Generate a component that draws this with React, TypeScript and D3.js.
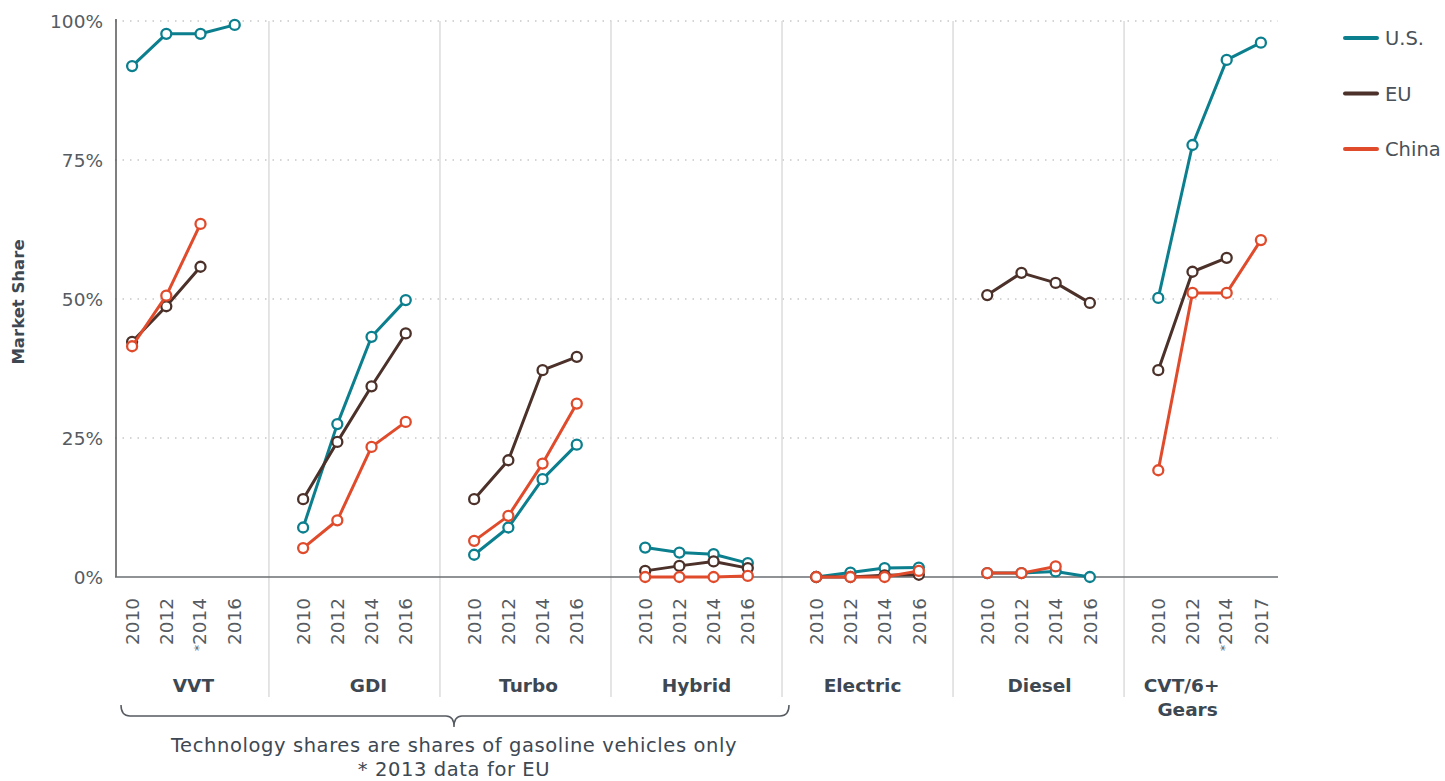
import React from "react";
import * as d3 from "d3";

// technology groups and the years shown under each
const groups = ["VVT", "GDI", "Turbo", "Hybrid", "Electric", "Diesel", "CVT/6+|Gears"];
const yearLabels = [
  ["2010", "2012", "*2014", "2016"],
  ["2010", "2012", "2014", "2016"],
  ["2010", "2012", "2014", "2016"],
  ["2010", "2012", "2014", "2016"],
  ["2010", "2012", "2014", "2016"],
  ["2010", "2012", "2014", "2016"],
  ["2010", "2012", "*2014", "2017"],
];

// market share in %, null = no data
const usShare = [
  [91.9, 97.7, 97.7, 99.3],
  [8.9, 27.5, 43.2, 49.8],
  [4.0, 8.9, 17.6, 23.8],
  [5.3, 4.4, 4.1, 2.5],
  [0, 0.8, 1.6, 1.7],
  [0.7, 0.7, 1.0, 0],
  [50.2, 77.7, 93.0, 96.1],
];
const euShare = [
  [42.3, 48.7, 55.8, null],
  [14.0, 24.3, 34.3, 43.8],
  [14.0, 21.0, 37.2, 39.6],
  [1.1, 2.0, 2.8, 1.6],
  [0, 0, 0.3, 0.4],
  [50.7, 54.7, 52.9, 49.3],
  [37.2, 54.9, 57.4, null],
];
const chinaShare = [
  [41.5, 50.6, 63.5, null],
  [5.2, 10.2, 23.4, 27.9],
  [6.5, 11.0, 20.4, 31.2],
  [0, 0, 0, 0.2],
  [0, 0, 0, 1.1],
  [0.7, 0.7, 1.9, null],
  [19.2, 51.1, 51.1, 60.6],
];

const yTicks = [0, 25, 50, 75, 100];

const series = [
  { name: "U.S.", color: "#0b7f8e", values: usShare },
  { name: "EU", color: "#4b3129", values: euShare },
  { name: "China", color: "#e04b2c", values: chinaShare },
];

const textColor = "#3d4852";
const font = "'DejaVu Sans', sans-serif";

const margin = { top: 21, left: 115, right: 1278, bottom: 577 };
const perGroup = 5; // 4 years + 1 gap slot

// small horizontal nudges of the group titles, as placed in the original
const labelNudge = [10, 14, 3, 0, -5, 1, -28];

export default function App() {
  const x = d3.scaleLinear()
    .domain([-0.5, groups.length * perGroup - 1.5])
    .range([margin.left, margin.right]);
  const y = d3.scaleLinear().domain([0, 100]).range([margin.bottom, margin.top]);

  const separators = d3.range(1, groups.length).map((g) => x(g * perGroup - 1));

  return (
    <div style={{ position: "absolute", left: 0, top: 0 }}>
      <svg width={1445} height={781} style={{ display: "block", fontFamily: font }}>
        {/* grid */}
        {yTicks.filter((t) => t > 0).map((t) => (
          <line key={t} x1={margin.left} x2={margin.right} y1={y(t)} y2={y(t)}
            stroke="#c8c8c8" strokeWidth={1.5} strokeDasharray="1.5 6" />
        ))}
        {separators.map((sx, i) => (
          <line key={i} x1={sx} x2={sx} y1={margin.top} y2={697} stroke="#dcdcdc" strokeWidth={1.5} />
        ))}
        {/* axes */}
        <line x1={margin.left + 1} x2={margin.left + 1} y1={margin.top - 2} y2={margin.bottom} stroke="#555" strokeWidth={1.5} />
        <line x1={margin.left} x2={margin.right} y1={margin.bottom} y2={margin.bottom} stroke="#6b6f73" strokeWidth={1.5} />
        {yTicks.map((t) => (
          <text key={t} x={103} y={y(t)} dy="0.36em" textAnchor="end" fontSize={18.5} fill="#555b61">
            {t}%
          </text>
        ))}
        <text transform={`translate(24,302) rotate(-90)`} textAnchor="middle" fontSize={16.5}
          fontWeight="bold" fill={textColor}>Market Share</text>

        {/* year labels */}
        {yearLabels.map((yrs, g) =>
          yrs.map((lab, i) => {
            const px = x(g * perGroup + i);
            const star = lab.startsWith("*");
            return (
              <text key={`${g}-${i}`} transform={`translate(${px},598) rotate(-90)`}
                textAnchor="end" fontSize={18.5} fill="#555b61">
                {star && <tspan fontSize={12} dy="0.2em">*</tspan>}
                <tspan dy={star ? "0.16em" : "0.36em"}>{star ? lab.slice(1) : lab}</tspan>
              </text>
            );
          })
        )}

        {/* group labels */}
        {groups.map((g, gi) => {
          const cx = x(gi * perGroup + 1.5) + labelNudge[gi];
          const parts = g.split("|");
          return (
            <text key={g} x={cx} y={692} textAnchor="middle" fontSize={18.5} fontWeight="bold" fill={textColor}>
              {parts.map((p, pi) => (
                <tspan key={pi} x={cx + (pi > 0 ? 6 : 0)} dy={pi === 0 ? 0 : 24}>{p}</tspan>
              ))}
            </text>
          );
        })}

        {/* lines & markers */}
        {series.map((s) => (
          <g key={s.name}>
            {s.values.map((vals, g) => {
              const offset = g * perGroup;
              const lg = d3.line<number | null>()
                .defined((d) => d !== null)
                .x((_, i) => x(offset + i))
                .y((d) => y(d as number));
              return (
                <g key={g}>
                  <path d={lg(vals) || ""} fill="none" stroke={s.color} strokeWidth={3} strokeLinejoin="round" />
                  {vals.map((v, i) => v === null ? null : (
                    <circle key={i} cx={x(offset + i)} cy={y(v)} r={5} fill="#fff" stroke={s.color} strokeWidth={2.3} />
                  ))}
                </g>
              );
            })}
          </g>
        ))}

        {/* legend */}
        {series.map((s, i) => (
          <g key={s.name} transform={`translate(1345,${38 + i * 55.5})`}>
            <line x1={0} x2={32} y1={0} y2={0} stroke={s.color} strokeWidth={4} strokeLinecap="round" />
            <text x={40} y={0} dy="0.36em" fontSize={19.5} fill="#4a5158">{s.name}</text>
          </g>
        ))}

        {/* bracket & note */}
        <path d="M121,705 Q121,716 130,716 L446,716 Q454,716 454,727 Q454,716 462,716 L780,716 Q789,716 789,705"
          fill="none" stroke="#555b61" strokeWidth={1.5} />
        <text x={454} y={752} textAnchor="middle" fontSize={19.5} letterSpacing={0.6} fill={textColor}>
          Technology shares are shares of gasoline vehicles only
        </text>
        <text x={454} y={776} textAnchor="middle" fontSize={19.5} letterSpacing={0.6} fill={textColor}>
          * 2013 data for EU
        </text>
      </svg>
    </div>
  );
}
